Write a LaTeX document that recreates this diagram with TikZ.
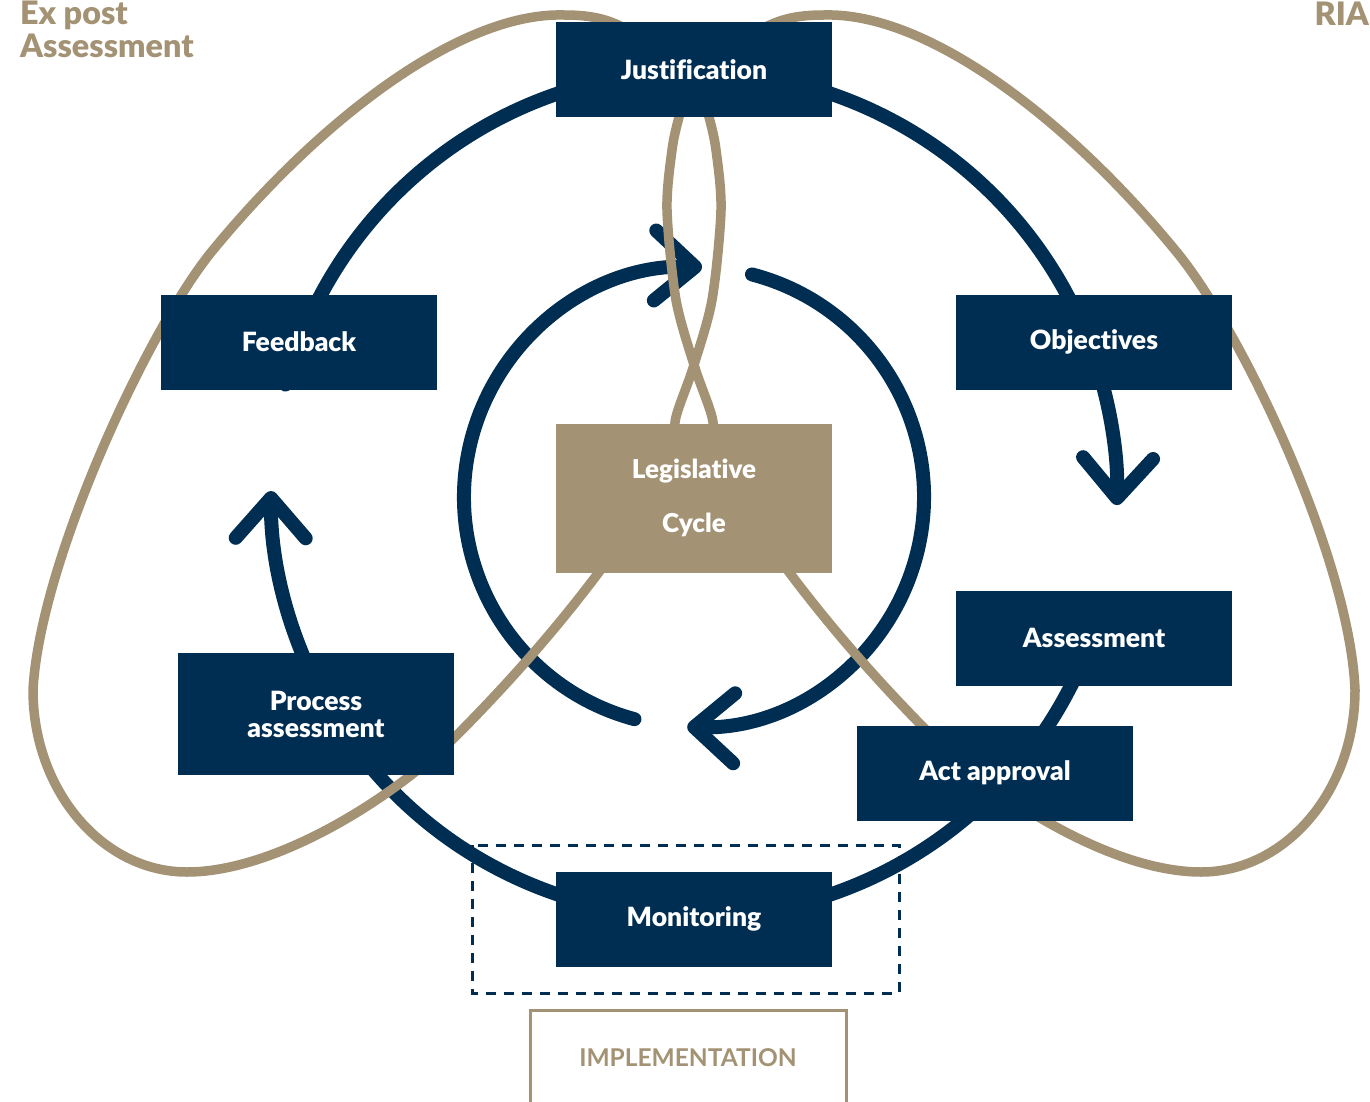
\documentclass[tikz,border=0pt]{standalone}
\usepackage{fontspec}
\setmainfont{Lato}[BoldFont={Lato Black},Ligatures={NoCommon,NoRare,NoContextual}]
\newfontfamily\latob{Lato}[Ligatures={NoCommon,NoRare,NoContextual}]
\usetikzlibrary{arrows.meta}
\definecolor{navyc}{RGB}{0,46,82}
\definecolor{tanc}{RGB}{163,146,116}
\begin{document}
\begin{tikzpicture}[x=1pt,y=-1pt,
  navyline/.style={draw=navyc,line width=14pt},
  tanline/.style={draw=tanc,line width=9.5pt},
  chev/.style={-{Straight Barb[length=40pt,width=70pt,round]}},
  box/.style={fill=navyc,text=white,minimum width=276pt,minimum height=95pt,inner sep=0pt,
    font=\bfseries\fontsize{26.5}{27}\selectfont,align=center},
  tantext/.style={text=tanc,inner sep=0pt,font=\bfseries\fontsize{32.3}{33}\selectfont}
]
\useasboundingbox (0,0) rectangle (1370,1102);
\coordinate (O) at (694,494);
\coordinate (I) at (694,497);

% dashed implementation frame
\draw[navyc,line width=3pt,dash pattern=on 10pt off 8pt] (472,845) rectangle (899,993);

% outer cycle arcs
\draw[navyline,line cap=round] (O) ++(255:423) arc[start angle=255,end angle=195,radius=423];
\draw[navyline] (O) ++(285:423) arc[start angle=285,end angle=340,radius=423];
\draw[navyline,chev] (O) ++(342:423) arc[start angle=342,end angle=361.5,radius=423];
\draw[navyline,chev] (O) ++(152:423) arc[start angle=152,end angle=180.4,radius=423];
\draw[navyline] (O) ++(145:423) arc[start angle=145,end angle=20,radius=423];

% inner cycle arrows
\draw[navyline,line cap=round,chev] (I) ++(-75.4:230) arc[start angle=-75.4,end angle=91.7,radius=230];
\draw[navyline,line cap=round,chev] (I) ++(105:230) arc[start angle=105,end angle=272,radius=230];

% tan loops
\draw[tanline] (650,45) .. controls (620,22) and (600,15) .. (564,15)
  .. controls (460,12) and (320,120) .. (213,250)
  .. controls (150,326) and (40,560) .. (33,690)
  .. controls (33,790) and (102,872) .. (187,872)
  .. controls (277,872) and (397,796) .. (460,732)
  .. controls (530,661) and (590,590) .. (650,500);
\draw[tanline] (738,45) .. controls (768,22) and (788,15) .. (824,15)
  .. controls (928,12) and (1068,120) .. (1175,250)
  .. controls (1242,330) and (1350,560) .. (1355,690)
  .. controls (1355,790) and (1286,872) .. (1201,872)
  .. controls (1111,872) and (991,796) .. (928,732)
  .. controls (858,661) and (798,590) .. (738,500);
\draw[tanline] plot[smooth] coordinates {(705,450) (713,422) (695,368) (676,300) (667,210)
  (672,150) (679,117) (690,80)};
\draw[tanline] plot[smooth] coordinates {(683,450) (675,422) (693,368) (712,300) (721,210)
  (716,150) (709,117) (698,80)};

% boxes
\node[box] (just) at (694,70) {Justification};
\node[box] (feed) at (299,342) {Feedback};
\node[box] (obj) at (1094,342) {Objectives};
\node[box,fill=tanc,minimum height=149pt,font=\bfseries\fontsize{26}{54}\selectfont] (leg) at (694,498) {Legislative\\Cycle};
\node[box] (ass) at (1094,638) {Assessment};
\node[box,minimum height=122pt] (proc) at (316,714) {Process\\assessment};
\node[box] (act) at (995,773) {Act approval};
\node[box] (mon) at (694,919) {Monitoring};

% labels
\node[tantext,anchor=north west,align=left] (expost) at (20,0.5) {Ex post\\Assessment};
\node[tantext,anchor=north east] (ria) at (1369,1.5) {RIA};
\draw[tanc,line width=3pt] (530,1010) rectangle (846,1140);
\node[text=tanc,inner sep=0pt,font=\latob\bfseries\fontsize{24.5}{28}\selectfont] (impl) at (688,1058) {IMPLEMENTATION};
\end{tikzpicture}
\end{document}
